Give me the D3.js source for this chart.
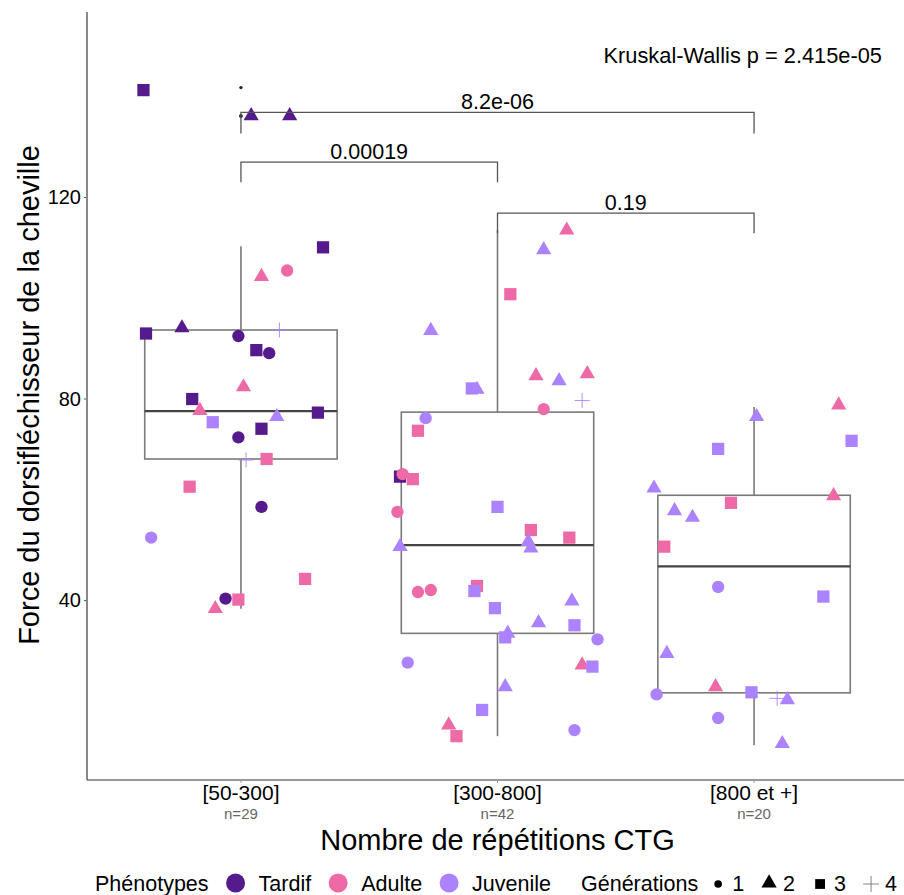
<!DOCTYPE html>
<html><head><meta charset="utf-8">
<script src="https://cdn.jsdelivr.net/npm/d3@7/dist/d3.min.js"></script>
<style>body{margin:0;background:#fff}svg{display:block}text{font-family:"Liberation Sans",Arial,sans-serif}</style>
</head><body>
<script>
// ---- data ----
const categories = ["[50-300]", "[300-800]", "[800 et +]"];
const counts = ["n=29", "n=42", "n=20"];
const yTicks = [40, 80, 120];
const phenotypes = ["Tardif", "Adulte", "Juvenile"];
const phenoColors = ["#551A8B", "#EE6AA7", "#AB82FF"];
const generations = ["1", "2", "3", "4"];
// box stats: [whiskerLow, q1, median, q3, whiskerHigh]
const boxStats = [
  [38.3, 68.0, 77.5, 93.6, 110.2],
  [13.0, 33.4, 50.9, 77.3, 113.4],
  [11.2, 21.6, 46.7, 60.8, 78.3]
];
const outliers = [[141.7, 136.1, 136.0], [], []];
// points: group index, jitter offset (category units), value, phenotype index, generation
const ptGroup = [
 0,0,0,0,0,0,0,0,0,0,0,0,0,0,0,0,0,0,0,0,0,0,0,0,0,0,0,0,0,
 1,1,1,1,1,1,1,1,1,1,1,1,1,1,1,1,1,1,1,1,1,1,1,1,1,1,1,1,1,1,1,1,1,1,1,1,1,1,1,1,1,1,
 2,2,2,2,2,2,2,2,2,2,2,2,2,2,2,2,2,2,2,2
];
const ptJitter = [
 -0.38,0.04,0.19,0.32,0.08,0.18,-0.37,-0.23,-0.01,0.15,0.06,0.11,0.01,-0.19,-0.16,-0.11,0.14,0.30,0.08,-0.01,0.02,0.10,-0.20,0.08,-0.35,0.25,-0.06,-0.01,-0.10,
 0.27,0.18,0.05,-0.26,-0.10,-0.08,0.15,0.24,0.35,0.33,0.18,-0.28,-0.31,
 -0.38,-0.37,-0.33,-0.39,0.00,0.13,0.28,-0.38,0.12,0.13,-0.31,-0.26,-0.08,-0.09,-0.01,0.29,0.16,0.30,0.04,0.03,0.39,-0.35,0.33,0.37,0.03,-0.06,-0.19,-0.16,0.30,
 0.33,0.01,0.38,-0.14,-0.39,0.31,-0.09,-0.31,-0.24,-0.35,-0.14,0.27,-0.34,-0.38,-0.15,-0.01,0.09,0.13,-0.14,0.11
];
const ptValue = [
 141.2,136.1,136.1,110.0,104.2,105.4,92.9,94.0,92.4,93.6,89.6,89.0,82.3,79.9,77.6,75.3,76.4,77.2,74.0,72.3,67.8,68.0,62.5,58.5,52.4,44.2,40.3,40.1,38.3,
 113.4,109.5,100.7,93.5,82.0,81.8,84.5,83.5,84.9,79.6,77.9,76.1,73.6,
 64.5,65.0,64.0,57.5,58.5,53.9,52.4,50.6,51.6,50.3,41.6,42.0,42.8,41.8,38.4,39.8,35.5,35.0,33.4,32.6,32.2,27.6,27.1,26.8,22.8,18.2,15.2,13.0,14.2,
 78.7,76.4,71.6,70.0,62.2,60.7,59.3,57.7,56.4,50.6,42.6,40.7,29.4,21.3,22.8,21.7,20.5,20.2,16.6,11.5
];
const ptPheno = [
 0,0,0,0,1,1,0,0,0,2,0,0,1,0,1,2,2,0,0,0,2,1,1,0,2,1,0,1,1,
 1,2,1,2,2,2,1,2,1,2,1,2,1,
 0,1,1,1,2,1,1,2,2,2,1,1,1,2,2,2,2,2,2,2,2,2,1,2,2,2,1,1,2,
 1,2,2,2,2,1,1,2,2,1,2,2,2,2,1,2,2,2,2,2
];
const ptGen = [
 3,2,2,3,2,1,3,2,1,4,3,1,2,3,2,3,2,3,3,1,4,3,3,1,1,3,1,3,2,
 2,2,3,2,3,2,2,2,2,4,1,1,3,
 3,1,3,1,3,3,3,2,2,2,1,1,3,3,3,2,2,3,2,3,1,1,2,3,2,3,2,3,1,
 2,2,3,3,2,2,3,2,2,3,1,3,2,1,2,3,4,2,1,2
];
const brackets = [
  {from: 0, to: 2, y: 136.8, tip: 132.6, label: "8.2e-06"},
  {from: 0, to: 1, y: 126.9, tip: 122.9, label: "0.00019"},
  {from: 1, to: 2, y: 116.8, tip: 112.8, label: "0.19"}
];
const kwLabel = "Kruskal-Wallis p = 2.415e-05";

// ---- drawing ----
const W = 904, H = 895;
const svg = d3.select("body").append("svg").attr("width", W).attr("height", H);
const pLeft = 87, pRight = 908, pTop = 12, pBottom = 780;
const x = d3.scaleLinear().domain([0.4, 3.6]).range([pLeft, pRight]);
const y = d3.scaleLinear().domain([4.3, 156.7]).range([pBottom, pTop]);
const boxW = 0.75;

// axes
const yAxis = svg.append("g").attr("transform", `translate(${pLeft},0)`)
  .call(d3.axisLeft(y).tickValues(yTicks).tickSize(3).tickPadding(3));
yAxis.select(".domain").remove();
yAxis.selectAll(".tick line").attr("stroke", "#555");
yAxis.selectAll(".tick text").attr("font-size", 20).attr("fill", "#000").attr("dy", "0.34em");
svg.append("line").attr("x1", pLeft).attr("x2", pLeft).attr("y1", pTop).attr("y2", pBottom)
  .attr("stroke", "#888").attr("stroke-width", 2);
svg.append("line").attr("x1", pLeft).attr("x2", W).attr("y1", pBottom).attr("y2", pBottom)
  .attr("stroke", "#333").attr("stroke-width", 1.2);
categories.forEach((c, i) => {
  svg.append("line").attr("x1", x(i + 1)).attr("x2", x(i + 1)).attr("y1", pBottom).attr("y2", pBottom + 3).attr("stroke", "#999");
  svg.append("text").attr("x", x(i + 1)).attr("y", 800).attr("text-anchor", "middle")
    .attr("font-size", 21).attr("fill", "#000").text(c);
  svg.append("text").attr("x", x(i + 1)).attr("y", 819).attr("text-anchor", "middle")
    .attr("font-size", 15).attr("fill", "#666").text(counts[i]);
});
svg.append("text").attr("x", x(2)).attr("y", 850).attr("text-anchor", "middle")
  .attr("font-size", 29).attr("fill", "#000").text("Nombre de répétitions CTG");
svg.append("text").attr("transform", `translate(39,395) rotate(-90)`)
  .attr("text-anchor", "middle").attr("font-size", 29).attr("fill", "#000")
  .text("Force du dorsifléchisseur de la cheville");

// boxes
boxStats.forEach((s, i) => {
  const cx = x(i + 1), x0 = x(i + 1 - boxW / 2), x1 = x(i + 1 + boxW / 2);
  const g = svg.append("g").attr("stroke", "#7a7a7a").attr("stroke-width", 1.6).attr("fill", "none");
  g.append("line").attr("x1", cx).attr("x2", cx).attr("y1", y(s[0])).attr("y2", y(s[1]));
  g.append("line").attr("x1", cx).attr("x2", cx).attr("y1", y(s[3])).attr("y2", y(s[4]));
  g.append("rect").attr("x", x0).attr("y", y(s[3])).attr("width", x1 - x0).attr("height", y(s[1]) - y(s[3]));
  g.append("line").attr("x1", x0).attr("x2", x1).attr("y1", y(s[2])).attr("y2", y(s[2]))
    .attr("stroke", "#444").attr("stroke-width", 2.4);
  outliers[i].forEach(v => svg.append("circle").attr("cx", cx).attr("cy", y(v)).attr("r", 1.7).attr("fill", "#222"));
});

// points
const symArea = {1: 120, 2: 100, 3: 150};
function drawShape(g, gen, color, cx, cy, scale) {
  scale = scale || 1;
  if (gen === 4) {
    const h = 7.5 * scale;
    g.append("path").attr("d", `M${cx - h},${cy}H${cx + h}M${cx},${cy - h}V${cy + h}`)
      .attr("stroke", color).attr("stroke-width", 0.9).attr("fill", "none");
  } else {
    const type = gen === 1 ? d3.symbolCircle : gen === 2 ? d3.symbolTriangle : d3.symbolSquare;
    g.append("path").attr("d", d3.symbol().type(type).size(symArea[gen] * scale * scale)())
      .attr("transform", `translate(${cx},${cy})`).attr("fill", color);
  }
}
const pg = svg.append("g");
ptValue.forEach((v, k) => {
  drawShape(pg, ptGen[k], phenoColors[ptPheno[k]], x(ptGroup[k] + 1 + ptJitter[k]), y(v));
});

// brackets
brackets.forEach(b => {
  const xa = x(b.from + 1), xb = x(b.to + 1);
  svg.append("path").attr("d", `M${xa},${y(b.tip)}V${y(b.y)}H${xb}V${y(b.tip)}`)
    .attr("stroke", "#555").attr("stroke-width", 1.3).attr("fill", "none");
  svg.append("text").attr("x", (xa + xb) / 2).attr("y", y(b.y) - 3).attr("text-anchor", "middle")
    .attr("font-size", 21.5).attr("fill", "#000").text(b.label);
});
svg.append("text").attr("x", 882).attr("y", 63).attr("text-anchor", "end")
  .attr("font-size", 21.8).attr("fill", "#000").text(kwLabel);

// legend
const ly = 883;
const lg = svg.append("g").attr("font-size", 21.5).attr("fill", "#000");
let lx = 95;
function ltext(t) {
  const el = lg.append("text").attr("x", lx).attr("y", ly + 7.5).text(t);
  lx += el.node().getComputedTextLength();
}
ltext("Phénotypes");
lx += 27;
phenotypes.forEach((p, i) => {
  lg.append("circle").attr("cx", lx).attr("cy", ly).attr("r", 9.5).attr("fill", phenoColors[i]);
  lx += 23;
  ltext(p);
  lx += i < 2 ? 27 : 30;
});
ltext("Générations");
lx += 20;
generations.forEach((gname, i) => {
  const gen = i + 1;
  const sc = gen === 1 ? 0.62 : gen === 2 ? 1.0 : gen === 3 ? 0.8 : 1.05;
  drawShape(lg, gen, gen === 4 ? "#777" : "#000", lx, ly + (gen === 2 ? 0 : 1), sc);
  lx += 14;
  ltext(gname);
  lx += 25;
});
</script>
</body></html>
